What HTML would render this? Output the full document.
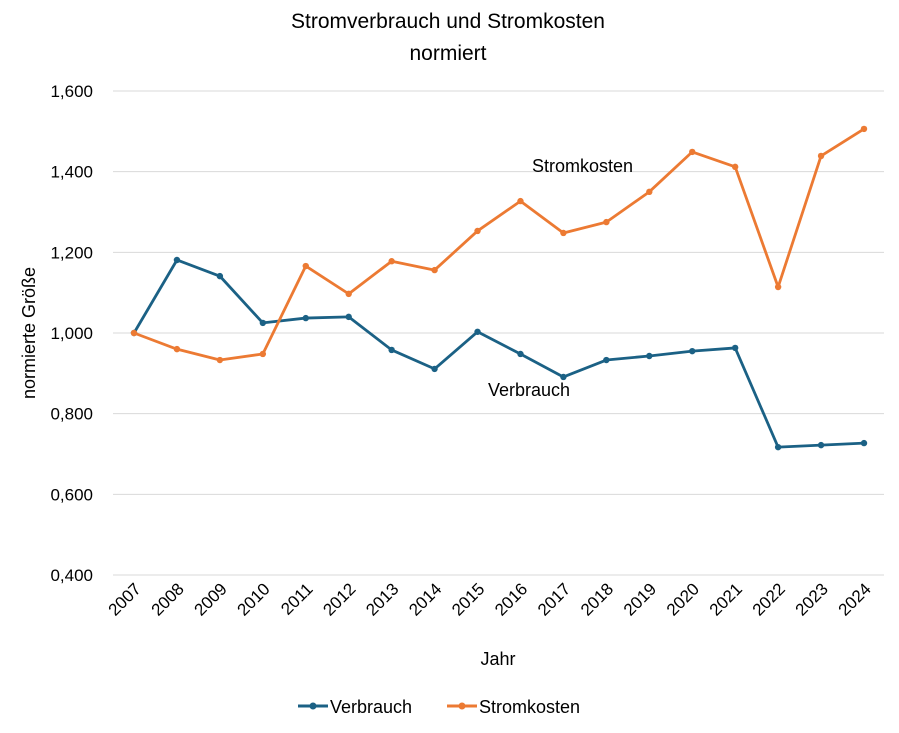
<!DOCTYPE html>
<html><head><meta charset="utf-8"><style>
body{margin:0;background:#fff;}
svg text{font-family:"Liberation Sans",sans-serif;fill:#000;}
</style></head><body>
<svg id="chart" width="899" height="728" xmlns="http://www.w3.org/2000/svg">
<text x="448" y="28" text-anchor="middle" font-size="21">Stromverbrauch  und Stromkosten</text>
<text x="448" y="60" text-anchor="middle" font-size="21">normiert</text>
<g id="grid"></g><g id="yticks"></g><g id="xticks"></g><g id="series"></g>
<text x="0" y="0" transform="translate(35,333) rotate(-90)" text-anchor="middle" font-size="18">normierte Größe</text>
<text x="498" y="665" text-anchor="middle" font-size="18">Jahr</text>
<text x="532" y="172" font-size="18">Stromkosten</text>
<text x="488" y="396" font-size="18">Verbrauch</text>
<g>
<g><line x1="298" y1="706" x2="328" y2="706" stroke="#1b6185" stroke-width="3"/><circle cx="313" cy="706" r="3.5" fill="#1b6185"/><text x="330" y="713" font-size="18">Verbrauch</text></g>
<g><line x1="447" y1="706" x2="477" y2="706" stroke="#ec7a33" stroke-width="3"/><circle cx="462" cy="706" r="3.5" fill="#ec7a33"/><text x="479" y="713" font-size="18">Stromkosten</text></g>
</g>
</svg>
<script>
const years=[2007,2008,2009,2010,2011,2012,2013,2014,2015,2016,2017,2018,2019,2020,2021,2022,2023,2024];
const verbrauch=[1.000,1.181,1.141,1.025,1.037,1.040,0.958,0.911,1.003,0.948,0.891,0.933,0.943,0.955,0.963,0.717,0.722,0.727];
const stromkosten=[1.000,0.960,0.933,0.948,1.166,1.097,1.178,1.156,1.253,1.327,1.248,1.275,1.350,1.449,1.412,1.114,1.439,1.506];
const yTicks=[0.4,0.6,0.8,1.0,1.2,1.4,1.6];
const yTickLabels=["0,400","0,600","0,800","1,000","1,200","1,400","1,600"];
const NS="http://www.w3.org/2000/svg";
function y(v){return 575-(v-0.4)/1.2*484;}
function x(i){return 134+i*(730/17);}
function mk(t,a,p){const e=document.createElementNS(NS,t);for(const k in a)e.setAttribute(k,a[k]);p.appendChild(e);return e;}
const grid=document.getElementById('grid'),yt=document.getElementById('yticks'),xt=document.getElementById('xticks'),ser=document.getElementById('series');
yTicks.forEach((v,i)=>{
 const l=mk('line',{x1:113,x2:884,y1:y(v),y2:y(v),stroke:'#d9d9d9','stroke-width':1},grid);
 
 
 const t=mk('text',{x:93,y:y(v)+6,'text-anchor':'end','font-size':17},yt);
 t.textContent=yTickLabels[i];
 
 
});
years.forEach((yr,i)=>{
 const t=mk('text',{x:0,y:0,'text-anchor':'end','font-size':17,transform:`translate(${x(i)+8},${590}) rotate(-45)`},xt);
 t.textContent=yr;
 
 
});
function series(vals,color,name){
 const p=mk('polyline',{points:vals.map((v,i)=>x(i)+','+y(v)).join(' '),fill:'none',stroke:color,'stroke-width':2.8,'stroke-linejoin':'round'},ser);
 
 
 vals.forEach((v,i)=>{
  const c=mk('circle',{cx:x(i),cy:y(v),r:3.2,fill:color},ser);
  
  
 });
}
series(verbrauch,'#1b6185','verbrauch');
series(stromkosten,'#ec7a33','stromkosten');
</script>
</body></html>
